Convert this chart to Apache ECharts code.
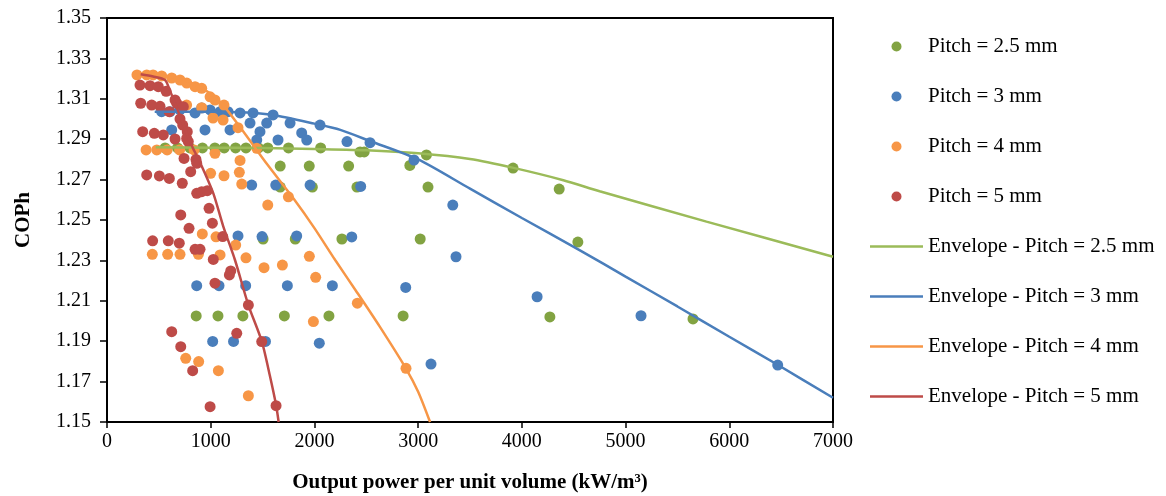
<!DOCTYPE html>
<html>
<head>
<meta charset="utf-8">
<script src="https://cdn.jsdelivr.net/npm/echarts@6/dist/echarts.min.js"></script>
<style>
html,body{margin:0;padding:0;background:#fff;}
#chart{width:1166px;height:496px;}
</style>
</head>
<body>
<div id="chart"></div>
<script>
// ---- Data ----
const xTicks = [0, 1000, 2000, 3000, 4000, 5000, 6000, 7000];
const yTicks = [1.15, 1.17, 1.19, 1.21, 1.23, 1.25, 1.27, 1.29, 1.31, 1.33, 1.35];

const pitch25Points = [
  [560,1.2857],[680,1.2857],[800,1.2857],[920,1.2857],[1040,1.2857],[1130,1.2857],[1240,1.2857],
  [1340,1.2857],[1460,1.2857],[1550,1.2857],[1750,1.2857],[2060,1.2857],[2440,1.2837],[2480,1.2837],[3080,1.2822],
  [1670,1.2767],[1950,1.2767],[2330,1.2767],[2920,1.2770],[3915,1.2757],
  [1670,1.2663],[1980,1.2663],[2410,1.2663],[3095,1.2663],[4360,1.2653],
  [1505,1.2406],[1815,1.2406],[2265,1.2406],[3020,1.2406],[4540,1.2391],
  [860,1.2025],[1070,1.2025],[1310,1.2025],[1710,1.2025],[2140,1.2025],[2855,1.2025],[4270,1.2020],[5650,1.2010]
];
const pitch3Points = [
  [527,1.3036],[608,1.3036],[704,1.3045],[849,1.3030],[913,1.3054],[994,1.3045],[1090,1.3036],[1167,1.3036],
  [1283,1.3030],[1408,1.3030],[1601,1.3020],[1765,1.2980],[2054,1.2970],[2314,1.2888],[2536,1.2883],[2960,1.2797],
  [624,1.2946],[945,1.2946],[1186,1.2946],[1379,1.2980],[1475,1.2937],[1540,1.2980],[1444,1.2896],[1649,1.2896],
  [1877,1.2931],[1926,1.2896],
  [1395,1.2673],[1627,1.2673],[1958,1.2673],[2446,1.2666],[3334,1.2574],
  [1263,1.2421],[1495,1.2418],[1829,1.2421],[2360,1.2416],[3365,1.2318],
  [865,1.2175],[1080,1.2175],[1337,1.2175],[1739,1.2175],[2173,1.2175],[2880,1.2166],[4147,1.2120],[5149,1.2026],
  [1019,1.1899],[1220,1.1899],[1528,1.1899],[2047,1.1890],[3124,1.1787],[6467,1.1782]
];
const pitch4Points = [
  [289,1.3218],[383,1.3218],[444,1.3218],[527,1.3213],[624,1.3203],[704,1.3193],[769,1.3178],[849,1.3160],
  [913,1.3152],[994,1.3110],[1041,1.3094],[1128,1.3069],
  [768,1.3069],[913,1.3056],[1022,1.3005],[1119,1.2995],[1263,1.2957],
  [377,1.2847],[480,1.2847],[580,1.2847],[700,1.2847],[840,1.2847],[1041,1.2830],[1283,1.2795],[1444,1.2855],
  [999,1.2731],[1128,1.2719],[1276,1.2736],[1299,1.2678],[1550,1.2574],[1749,1.2615],
  [919,1.2431],[1051,1.2417],[1241,1.2376],
  [437,1.2330],[585,1.2330],[704,1.2330],[881,1.2330],[1090,1.2327],[1340,1.2313],[1951,1.2320],
  [1514,1.2264],[1691,1.2277],[2012,1.2216],[2414,1.2088],[1990,1.1997],
  [759,1.1815],[884,1.1799],[1074,1.1754],[1363,1.1630],[2883,1.1766]
];
const pitch5Points = [
  [318,1.3168],[415,1.3165],[495,1.3160],[570,1.3137],
  [325,1.3078],[431,1.3069],[511,1.3063],[656,1.3094],[672,1.3078],[736,1.3061],[600,1.3036],[704,1.3000],[730,1.2970],[774,1.2937],
  [344,1.2937],[456,1.2929],[543,1.2921],[656,1.2901],[784,1.2888],[768,1.2904],
  [743,1.2805],[858,1.2800],[865,1.2781],
  [807,1.2739],[383,1.2723],[505,1.2718],[601,1.2706],[726,1.2682],
  [865,1.2632],[913,1.2640],[967,1.2645],[984,1.2558],[711,1.2525],[1016,1.2484],[791,1.2459],[1116,1.2418],
  [440,1.2397],[591,1.2397],[697,1.2385],[849,1.2355],[897,1.2355],
  [1025,1.2305],[1193,1.2248],[1180,1.2228],[1041,1.2187],[1363,1.2079],
  [624,1.1947],[1251,1.1939],[711,1.1873],[1492,1.1898],[826,1.1754],[994,1.1576],[1630,1.1581]
];

const envelope25 = [[470,1.2860],[1000,1.2858],[1500,1.2856],[2000,1.2852],[2500,1.2845],[3000,1.2830],[3500,1.2802],
  [3920,1.2758],[4400,1.2697],[4750,1.2642],[5780,1.2492],[7000,1.2318]];
const envelope3 = [[460,1.3036],[1000,1.3036],[1300,1.3033],[1600,1.3020],[2000,1.2977],[2250,1.2946],[2540,1.2890],
  [3000,1.2800],[3500,1.2655],[4000,1.2510],[4560,1.2350],[5000,1.2220],[5500,1.2072],[6000,1.1922],[6470,1.1782],[7000,1.1620]];
const envelope4 = [[290,1.3218],[500,1.3215],[700,1.3200],[850,1.3170],[1000,1.3125],[1120,1.3069],[1300,1.2948],
  [1550,1.2772],[1800,1.2605],[2000,1.2460],[2200,1.2302],[2400,1.2150],[2630,1.1972],[2880,1.1767],[3000,1.1650],[3115,1.1500]];
const envelope5 = [[325,1.3221],[444,1.3210],[559,1.3193],[600,1.3150],[624,1.3119],[690,1.3033],[750,1.2954],
  [820,1.2865],[897,1.2785],[1025,1.2632],[1120,1.2470],[1234,1.2302],[1363,1.2079],[1492,1.1900],[1570,1.1730],
  [1630,1.1584],[1655,1.1500]];

const names = ['Pitch = 2.5 mm','Pitch = 3 mm','Pitch = 4 mm','Pitch = 5 mm',
  'Envelope - Pitch = 2.5 mm','Envelope - Pitch = 3 mm','Envelope - Pitch = 4 mm','Envelope - Pitch = 5 mm'];

// ---- Styles ----
const FONT = "'Liberation Serif', 'Times New Roman', serif";
const dotColors = ['#82A342','#4A7EBB','#F79646','#BE4B48'];
const lineColors = ['#9BBB59','#4A7EBB','#F79646','#BE4B48'];

const pointSets = [pitch25Points, pitch3Points, pitch4Points, pitch5Points];
const lineSets = [envelope25, envelope3, envelope4, envelope5];

const series = [];
pointSets.forEach((pts, i) => {
  series.push({
    name: names[i], type: 'scatter', data: pts, symbol: 'circle', symbolSize: 11,
    itemStyle: { color: dotColors[i], opacity: 1 }, z: 2, silent: true
  });
});
lineSets.forEach((pts, i) => {
  series.push({
    name: names[4 + i], type: 'line', data: pts, symbol: 'none', showSymbol: false, smooth: 0.25,
    lineStyle: { color: lineColors[i], width: 2.5 }, itemStyle: { color: lineColors[i] }, z: 3, silent: true
  });
});

const lineIcon = 'path://M0,0 H53 V2.5 H0 Z';
const legendData = names.map((n, i) => i < 4
  ? { name: n, icon: 'circle' }
  : { name: n, icon: lineIcon, itemStyle: { color: lineColors[i - 4] } });

const chart = echarts.init(document.getElementById('chart'), null, { renderer: 'canvas' });
chart.setOption({
  animation: false,
  backgroundColor: '#fff',
  textStyle: { fontFamily: FONT, color: '#000' },
  grid: { left: 107, right: 333, top: 18, bottom: 74, show: true, borderColor: '#000', borderWidth: 2,
          containLabel: false, outerBoundsMode: 'none' },
  legend: {
    orient: 'vertical', left: 865, top: 31, itemWidth: 53, itemHeight: 10, itemGap: 29,
    data: legendData,
    textStyle: { fontFamily: FONT, fontSize: 21, color: '#000' }
  },
  xAxis: {
    type: 'value', min: xTicks[0], max: xTicks[xTicks.length - 1], interval: 1000,
    name: 'Output power per unit volume (kW/m³)', nameLocation: 'middle', nameGap: 50,
    nameTextStyle: { fontFamily: FONT, fontSize: 21, fontWeight: 'bold', color: '#000' },
    axisLine: { show: true, lineStyle: { color: '#000', width: 2 } },
    axisTick: { show: true, length: 6, lineStyle: { color: '#000', width: 1.5 } },
    axisLabel: { fontFamily: FONT, fontSize: 20, color: '#000', margin: 10, formatter: v => String(Math.round(v)) },
    splitLine: { show: false }
  },
  yAxis: {
    type: 'value', min: yTicks[0], max: yTicks[yTicks.length - 1], interval: 0.02,
    name: 'COPh', nameLocation: 'middle', nameGap: 73, nameRotate: 90,
    nameTextStyle: { fontFamily: FONT, fontSize: 21, fontWeight: 'bold', color: '#000' },
    axisLine: { show: true, lineStyle: { color: '#000', width: 2 } },
    axisTick: { show: true, length: 7, lineStyle: { color: '#000', width: 1.5 } },
    axisLabel: { fontFamily: FONT, fontSize: 20, color: '#000', margin: 16, formatter: v => v.toFixed(2) },
    splitLine: { show: false }
  },
  series: series
});
</script>
</body>
</html>
